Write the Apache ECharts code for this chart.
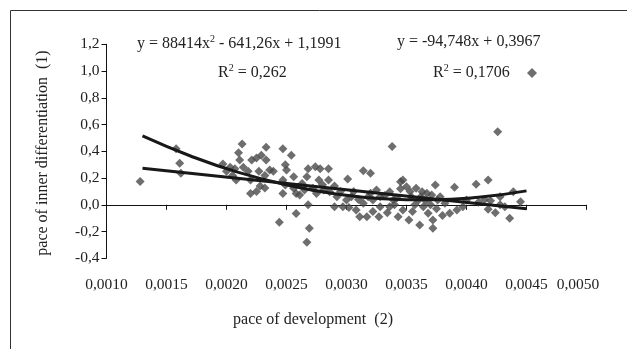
<!DOCTYPE html>
<html><head><meta charset="utf-8">
<script src="https://cdn.jsdelivr.net/npm/echarts@6/dist/echarts.min.js"></script>
<style>html,body{margin:0;padding:0;background:#fff}#c{width:627px;height:349px}</style>
</head><body><div id="c"></div>
<script>
// scatter observations [pace of development (2), pace of inner differentiation (1)]
const points = [
[0.00128,0.175],[0.00158,0.42],[0.00161,0.31],[0.00162,0.235],
[0.00197,0.305],[0.00200,0.25],[0.00203,0.28],[0.00207,0.27],[0.00208,0.185],[0.00205,0.22],[0.00210,0.39],[0.00211,0.335],[0.00213,0.455],[0.00214,0.28],[0.00218,0.25],[0.00220,0.085],[0.00220,0.185],[0.00221,0.335],[0.00225,0.35],[0.00225,0.10],[0.00227,0.25],[0.00229,0.37],[0.00232,0.125],[0.00233,0.43],[0.00233,0.335],[0.00236,0.26],[0.00239,0.25],[0.00232,0.22],[0.00228,0.14],[0.00244,-0.13],
[0.00247,0.42],[0.00254,0.37],[0.00249,0.30],[0.00250,0.26],[0.00247,0.185],[0.00256,0.21],[0.00247,0.085],[0.00258,0.085],[0.00258,-0.065],[0.00249,0.148],[0.00256,0.123],[0.00261,0.073],[0.00268,0.0],[0.00269,-0.176],[0.00267,-0.28],[0.00268,0.27],[0.00274,0.285],[0.00278,0.27],[0.00285,0.27],[0.00267,0.21],[0.00277,0.185],[0.00285,0.185],[0.00272,0.123],[0.00281,0.11],[0.00275,0.085],[0.00286,0.098],[0.00292,0.06],[0.00290,-0.014],[0.00297,-0.014],[0.00300,0.036],[0.00301,0.193],[0.00263,0.16],[0.00280,0.15],[0.00290,0.14],[0.00295,0.10],[0.00265,0.11],
[0.00314,0.255],[0.00320,0.235],[0.00311,-0.089],[0.00317,-0.089],[0.00308,-0.039],[0.00314,0.011],[0.00304,0.06],[0.00322,0.036],[0.00320,0.086],[0.00328,-0.014],[0.00327,-0.089],[0.00328,0.06],[0.00336,0.098],[0.00338,0.435],[0.00347,0.185],[0.00345,0.173],[0.00350,0.135],[0.00339,0.036],[0.00336,-0.014],[0.00343,-0.089],[0.00352,-0.114],[0.00347,-0.039],[0.00306,0.10],[0.00310,0.04],[0.00318,0.06],[0.00325,0.11],[0.00332,0.07],[0.00342,0.05],[0.00345,0.12],[0.00334,-0.06],[0.00340,0.00],[0.00302,-0.02],[0.00322,-0.05],
[0.00357,0.0],[0.00358,0.123],[0.00363,0.098],[0.00367,0.086],[0.00374,0.148],[0.00371,0.073],[0.00360,0.036],[0.00364,-0.014],[0.00361,-0.151],[0.00368,-0.064],[0.00372,-0.114],[0.00372,-0.176],[0.00382,0.011],[0.00386,-0.064],[0.00390,0.131],[0.00376,0.036],[0.00354,0.06],[0.00355,-0.05],[0.00366,0.03],[0.00370,0.00],[0.00378,0.06],[0.00392,-0.039],[0.00397,-0.014],[0.00400,0.036],[0.00353,0.10],[0.00362,0.06],[0.00375,-0.03],[0.00380,-0.08],
[0.00408,0.153],[0.00418,0.185],[0.00426,0.547],[0.00418,-0.034],[0.00424,-0.059],[0.00428,0.0],[0.00432,-0.014],[0.00436,-0.101],[0.00439,0.098],[0.00445,0.023],[0.00428,0.06],[0.00410,0.02],[0.00415,0.04],[0.00420,0.03]
];
// polynomial trend line
const polyTrendX = [0.0013,0.0017,0.0021,0.0025,0.0029,0.0033,0.0037,0.0041,0.0045];
const polyTrendY = [0.515,0.365,0.242,0.149,0.083,0.046,0.037,0.056,0.104];
// linear trend line endpoints
const linTrendX = [0.0013,0.0045];
const linTrendY = [0.274,-0.030];
const xTicks = {min:0.001,max:0.005,interval:0.0005};
const yTicks = {min:-0.4,max:1.2,interval:0.2};
const polyEq = 'y = 88414x{sup|2} - 641,26x + 1,1991';
const polyR2 = 'R{sup|2} = 0,262';
const linEq = 'y = -94,748x + 0,3967';
const linR2 = 'R{sup|2} = 0,1706';
const xTitle = 'pace of development  (2)';
const yTitle = 'pace of inner differentiation  (1)';

const FONT = '"Liberation Serif","Times New Roman",serif';
const chart = echarts.init(document.getElementById('c'), null, {renderer:'canvas'});
function eqText(t,x,y){
  return {type:'text',left:x,top:y,style:{text:t,font:'16px '+FONT,fill:'#222',rich:{
    sup:{fontFamily:FONT,fontSize:10,fill:'#222',padding:[0,0,9,0]}
  }}};
}
chart.setOption({
  animation:false,
  textStyle:{fontFamily:FONT},
  grid:{left:106.5,top:44.3,width:480,height:214,containLabel:false},
  legend:{left:522,top:63,itemWidth:10,itemHeight:10,data:[{name:'pts',icon:'diamond'}],formatter:()=>'' ,textStyle:{fontSize:1}},
  xAxis:{type:'value',min:xTicks.min,max:xTicks.max,interval:xTicks.interval,
    axisLine:{lineStyle:{color:'#111',width:1}},
    axisTick:{show:true,length:5,inside:false,lineStyle:{color:'#111'}},
    splitLine:{show:false},
    axisLabel:{fontFamily:FONT,fontSize:15.5,color:'#222',margin:19,
      formatter:v=>{const s=v.toFixed(4).replace('.',',');return Math.abs(v-0.005)<1e-9?'{last|'+s+'}':s;},
      rich:{last:{fontFamily:FONT,fontSize:15.5,color:'#222',padding:[0,17,0,0]}}}},
  yAxis:{type:'value',min:yTicks.min,max:yTicks.max,interval:yTicks.interval,
    axisLine:{show:true,lineStyle:{color:'#111',width:1}},
    axisTick:{show:true,length:5,inside:false,lineStyle:{color:'#111'}},
    splitLine:{show:false},
    axisLabel:{fontFamily:FONT,fontSize:15.5,color:'#222',margin:7,
      formatter:v=>v.toFixed(1).replace('.',',')}},
  series:[
    {name:'pts',type:'scatter',data:points,symbol:'diamond',symbolSize:9,
      itemStyle:{color:'#4a4a4a'},z:2},
    {name:'poly',type:'line',data:polyTrendX.map((x,i)=>[x,polyTrendY[i]]),smooth:true,
      showSymbol:false,lineStyle:{color:'#181818',width:3},z:3},
    {name:'lin',type:'line',data:linTrendX.map((x,i)=>[x,linTrendY[i]]),
      showSymbol:false,lineStyle:{color:'#181818',width:3},z:3}
  ],
  graphic:[
    {type:'rect',left:8,top:8,shape:{width:700,height:500},style:{fill:'none',stroke:'#333',lineWidth:1},z:-1,silent:true},
    eqText(polyEq,137,34),
    eqText(polyR2,218,63),
    eqText(linEq,397,34),
    eqText(linR2,433,63),
    {type:'text',x:313,y:320,style:{text:xTitle,font:'16px '+FONT,fill:'#222',textAlign:'center',textVerticalAlign:'middle'}},
    {type:'text',x:43,y:153,rotation:Math.PI/2,style:{text:yTitle,font:'16px '+FONT,fill:'#222',textAlign:'center',textVerticalAlign:'middle'}}
  ]
});
</script></body></html>
